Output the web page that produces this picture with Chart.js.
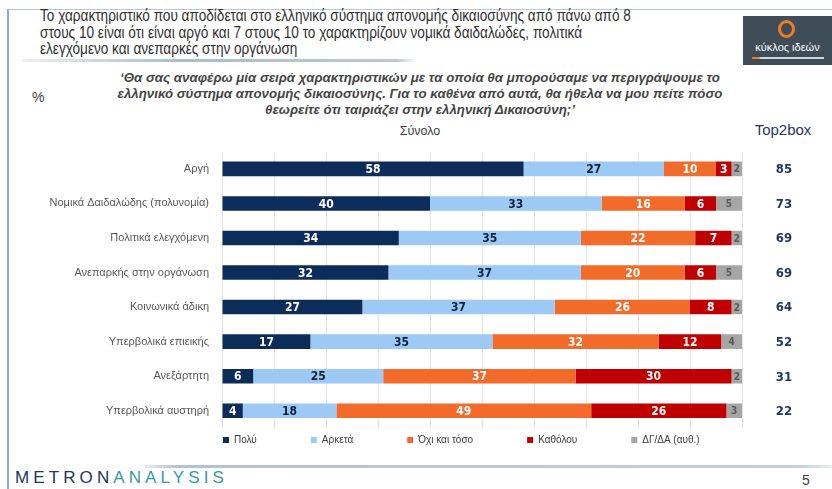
<!DOCTYPE html>
<html lang="el">
<head>
<meta charset="utf-8">
<script src="https://cdn.jsdelivr.net/npm/chart.js@4.4.1/dist/chart.umd.min.js"></script>
<style>
  body { margin: 0; width: 832px; height: 489px; position: relative; background: #fff; overflow: hidden;
         font-family: 'Liberation Sans', Arial, sans-serif; color: #3b3b3b; }
  .abs { position: absolute; }
  #frame { left: 7px; top: 9px; width: 830px; height: 490px; border-left: 2px solid #8aa8d8; border-top: 1px solid #b4c6e7; }
  #title { left: 40px; top: 8px; font-size: 16px; line-height: 16.5px; color: #2f2f2f; white-space: nowrap;
           transform: scaleX(0.85); transform-origin: 0 0; }
  #titleLine { left: 22px; top: 59px; width: 395px; height: 3px; background: linear-gradient(90deg, rgba(160,180,200,0.2), #a9bccd 40%, #b9c9d6 95%, rgba(185,200,214,0)); }
  #logo { left: 743px; top: 16px; width: 89px; height: 49px; background: #3e4d58; }
  #ring { left: 778px; top: 20px; width: 11px; height: 12px; border: 3.5px solid #ef7d22; border-radius: 50%; }
  #logoText { left: 743px; top: 41px; width: 89px; text-align: center; color: #fff; font-size: 11px; }
  #logoBar { left: 752px; top: 57px; width: 72px; height: 2px; background: linear-gradient(90deg, #ef7d22 10%, #cfd6dc 12%); }
  #question { left: 100px; width: 640px; top: 70px; text-align: center; font-size: 13.3px; line-height: 16px; font-style: italic; font-weight: bold; color: #454545; }
  #pct { left: 32px; top: 89px; font-size: 14px; color: #444; }
  #total { left: 360px; width: 120px; top: 124px; text-align: center; font-size: 12.5px; color: #404040; }
  #t2b { left: 748px; width: 70px; top: 121px; text-align: center; font-size: 15px; color: #1f3864; }
  #bottomLine { left: 145px; top: 465px; width: 687px; height: 3px; background: linear-gradient(90deg, rgba(170,185,200,0.3), #b2c2d0 5%, #c3d0db 95%, rgba(195,208,219,0.4)); }
  #brand { left: 15px; top: 468px; font-size: 17px; letter-spacing: 4.1px; }
  #brand .a { color: #22365f; }
  #brand .b { color: #3b98a6; }
  #page { left: 802px; top: 472px; font-size: 14px; color: #404040; }
  #wrap { left: 0; top: 140px; width: 832px; height: 320px; }
</style>
</head>
<body>
<div id="frame" class="abs"></div>
<div id="title" class="abs">Το χαρακτηριστικό που αποδίδεται στο ελληνικό σύστημα απονομής δικαιοσύνης από πάνω από 8<br>στους 10 είναι ότι είναι αργό και 7 στους 10 το χαρακτηρίζουν νομικά δαιδαλώδες, πολιτικά<br>ελεγχόμενο και ανεπαρκές στην οργάνωση</div>
<div id="titleLine" class="abs"></div>
<div id="logo" class="abs"></div>
<div id="ring" class="abs"></div>
<div id="logoText" class="abs">κύκλος ιδεών</div>
<div id="logoBar" class="abs"></div>
<div id="question" class="abs">‘Θα σας αναφέρω μία σειρά χαρακτηριστικών με τα οποία θα μπορούσαμε να περιγράψουμε το<br>ελληνικό σύστημα απονομής δικαιοσύνης. Για το καθένα από αυτά, θα ήθελα να μου πείτε πόσο<br>θεωρείτε ότι ταιριάζει στην ελληνική Δικαιοσύνη;’</div>
<div id="pct" class="abs">%</div>
<div id="total" class="abs">Σύνολο</div>
<div id="t2b" class="abs">Top2box</div>
<div id="wrap" class="abs"><canvas id="chart"></canvas></div>
<div id="bottomLine" class="abs"></div>
<div id="brand" class="abs"><span class="a">METRON</span><span class="b">ANALYSIS</span></div>
<div id="page" class="abs">5</div>

<script>
const categories = ['Αργή', 'Νομικά Δαιδαλώδης (πολυνομία)', 'Πολιτικά ελεγχόμενη', 'Ανεπαρκής στην οργάνωση',
    'Κοινωνικά άδικη', 'Υπερβολικά επιεικής', 'Ανεξάρτητη', 'Υπερβολικά αυστηρή'];
const poly     = [58, 40, 34, 32, 27, 17, 6, 4];
const arketa   = [27, 33, 35, 37, 37, 35, 25, 18];
const oxi      = [10, 16, 22, 20, 26, 32, 37, 49];
const katholou = [3, 6, 7, 6, 8, 12, 30, 26];
const dkda     = [2, 5, 2, 5, 2, 4, 2, 3];
const top2box  = [85, 73, 69, 69, 64, 52, 31, 22];

const seriesLabels = ['Πολύ', 'Αρκετά', 'Όχι και τόσο', 'Καθόλου', 'ΔΓ/ΔΑ (αυθ.)'];
const seriesColors = ['#0c2d5a', '#9dcaf4', '#f26b2a', '#c00000', '#a6a6a6'];
const valueColors  = ['#ffffff', '#0d2340', '#ffffff', '#ffffff', '#595959'];

const sans = "'Liberation Sans', Arial, sans-serif";
const numFont = "'DejaVu Sans Condensed', 'DejaVu Sans', sans-serif";

// values inside the bars + Top2box column on the right
const barValues = {
    id: 'barValues',
    afterDatasetsDraw(chart) {
        const ctx = chart.ctx;
        ctx.save();
        ctx.textAlign = 'center';
        ctx.textBaseline = 'middle';
        chart.data.datasets.forEach((ds, di) => {
            ctx.fillStyle = valueColors[di];
            ctx.font = di === 4 ? 'bold 10px ' + numFont : 'bold 12px ' + numFont;
            chart.getDatasetMeta(di).data.forEach((bar, i) => {
                ctx.fillText(ds.data[i], (bar.x + bar.base) / 2, bar.y + 1);
            });
        });
        const y = chart.scales.y;
        ctx.fillStyle = '#1f3864';
        ctx.font = 'bold 13px ' + numFont;
        top2box.forEach((v, i) => ctx.fillText(v, chart.chartArea.right + 42, y.getPixelForValue(i) + 1));
        ctx.restore();
    }
};

// put the legend row just under the plot, starting at the plot's left edge
const legendPlace = {
    id: 'legendPlace',
    afterLayout(chart) {
        const lg = chart.legend;
        const pad = chart.options.plugins.legend.labels.padding;
        lg.left = chart.chartArea.left + 1 - pad;
        lg.right = chart.width;
        lg.top = chart.chartArea.bottom + 7 - pad;
        lg.bottom = chart.height;
    }
};

const ctx = document.getElementById('chart').getContext('2d');
new Chart(ctx, {
    type: 'bar',
    data: {
        labels: categories,
        datasets: [poly, arketa, oxi, katholou, dkda].map((d, i) => ({
            label: seriesLabels[i], data: d, backgroundColor: seriesColors[i],
            borderWidth: 0, barPercentage: 0.42, categoryPercentage: 1
        }))
    },
    options: {
        indexAxis: 'y',
        responsive: true, maintainAspectRatio: false, animation: false,
        layout: { padding: { top: 0, right: 90, bottom: 12, left: 0 } },
        plugins: {
            tooltip: { enabled: false },
            legend: {
                position: 'bottom', align: 'start', maxHeight: 20,
                labels: { boxWidth: 6, boxHeight: 6, padding: 54, color: '#404040', font: { family: sans, size: 10 } }
            }
        },
        scales: {
            x: {
                stacked: true, min: 0, max: 100,
                ticks: { display: false, stepSize: 10 },
                grid: { color: '#e4e4e4', drawTicks: false },
                border: { display: false }
            },
            y: {
                stacked: true,
                grid: { display: false },
                border: { display: false },
                ticks: { color: '#595959', padding: 5, font: { family: sans, size: 11 } },
                afterFit(scale) { scale.width = 222; }
            }
        }
    },
    plugins: [barValues, legendPlace]
});
</script>
</body>
</html>
